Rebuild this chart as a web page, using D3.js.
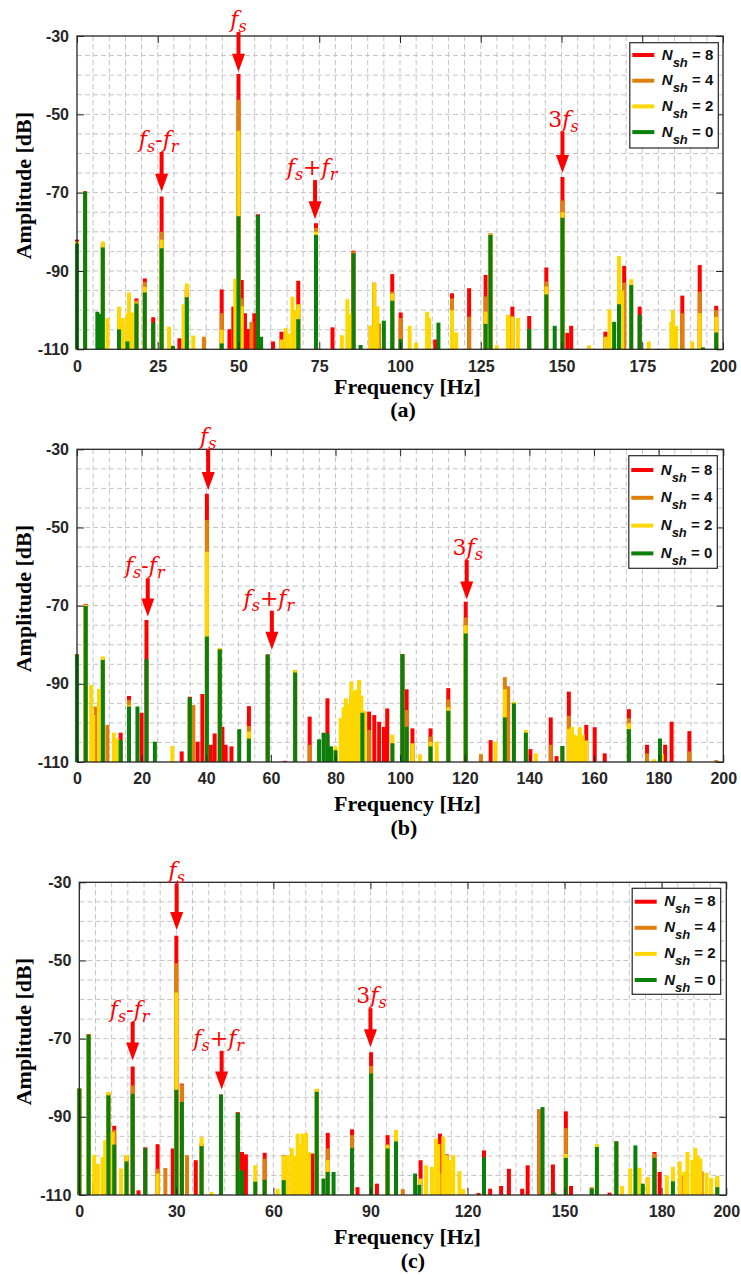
<!DOCTYPE html>
<html>
<head>
<meta charset="utf-8">
<script src="https://cdnjs.cloudflare.com/ajax/libs/d3/7.8.5/d3.min.js"></script>
<style>
body { margin: 0; background: #fff; }
</style>
</head>
<body>
<script>
// spectrum peaks: [frequency Hz, amplitude dB]
var nsh8_a = [[0,-82],[2.5,-69.6],[8,-83],[18.4,-97],[21,-91.9],[23.6,-101.8],[26.2,-71],[31.7,-107.2],[34,-95],[44.8,-94.7],[47.2,-104.9],[48.4,-99.1],[50,-39.7],[51,-92.3],[52,-100.8],[53,-104.8],[54.9,-100.8],[56,-75.5],[60.7,-108],[63.3,-105.5],[68.5,-92.5],[74,-77.8],[79.1,-104.4],[85.6,-84.8],[92,-93],[97.6,-90.8],[100.2,-100.6],[110.9,-107.5],[116.1,-95.7],[121.4,-94.4],[126.5,-91],[128,-80.5],[134.8,-99.1],[140,-101.5],[145.3,-89.1],[150.3,-66],[151.8,-105.8],[153,-104],[163.6,-105.5],[169.4,-88.7],[174.2,-99.1],[187.4,-96.3],[192.8,-88.5],[197.9,-98.9]];
var nsh4_a = [[0,-82.5],[2.5,-69.8],[8,-83],[18.4,-97.5],[21,-92.8],[26.2,-80],[34,-94.4],[39.3,-106.8],[44.8,-100.8],[50,-46.3],[51,-97],[54,-103],[68.5,-99],[74,-79],[85.6,-85],[90.9,-104],[93.5,-103.4],[97.6,-95.3],[100.2,-102],[116.1,-97],[121.4,-101.7],[126.5,-96.5],[128,-80.4],[145.3,-92.7],[150.3,-72],[169.4,-93],[187.4,-100.8],[192.8,-95.3],[197.9,-100]];
var nsh2_a = [[0,-82.5],[2.5,-69.8],[8,-82.5],[9.4,-102],[13,-99.1],[14.2,-102],[15.6,-100.8],[16.1,-95.5],[17,-100.6],[18.4,-98],[21,-94],[26.2,-82],[28.5,-104.2],[33,-98.5],[34,-93.2],[36,-106.5],[44.8,-105],[49,-92],[50,-54.2],[51,-99],[63.3,-107.5],[64.6,-104.6],[65.5,-106],[66.7,-96.6],[67.5,-100],[68.5,-98.5],[74,-80],[82,-106.4],[83.7,-97.2],[84.5,-101],[90.9,-104],[92,-93],[93,-99],[97.6,-95.8],[103,-104],[105,-108.3],[108.4,-100.4],[109,-102],[116.1,-100],[117.4,-105.7],[126.5,-100.4],[128,-80.6],[130,-109],[133.4,-101.2],[134.8,-101.6],[136.5,-102],[145.3,-94],[150.3,-75],[158.5,-109],[163.6,-106.8],[164.9,-99.8],[166.3,-103],[167.8,-86.2],[168.8,-95],[171.6,-92.1],[177,-108],[184,-103],[184.5,-100],[185.5,-104],[190.5,-108],[192.8,-100.8],[197.9,-101.7]];
var nsh0_a = [[0,-83],[2.5,-69.8],[6.3,-100.4],[7,-101],[8,-84],[13,-104.9],[15.6,-108],[18.4,-98.3],[21,-95.5],[23.6,-103.2],[26.2,-84.2],[29.7,-109.1],[34,-96.7],[44.8,-108.5],[50,-76],[56,-75.8],[57,-106.8],[68.5,-102.3],[74,-80.8],[85.6,-85.5],[87.8,-108.9],[95,-102.7],[97.6,-97.6],[100.2,-107.4],[111.9,-103.2],[126.5,-103.5],[128,-80.8],[140,-104.8],[145.3,-96],[147.9,-104],[150.3,-76.4],[166.3,-103],[167.8,-98.5],[171.6,-93.6],[174.2,-101.2],[193.8,-109.5],[197.9,-105.7]];

var nsh8_b = [[0,-82.4],[2.7,-69.6],[8,-83.5],[13.5,-102.5],[16.1,-93.1],[20,-97.4],[21.5,-73.7],[32.4,-107.3],[34.9,-93.3],[37.3,-104.8],[38.8,-92.6],[40.2,-41.4],[41.4,-105.6],[42.6,-102.7],[44.2,-81],[45,-101],[46,-105.6],[47.8,-106],[53.2,-95.7],[59,-82.5],[64.3,-109.7],[67.5,-86.5],[72,-98.4],[77.5,-93.7],[88.3,-97],[90.4,-97.1],[92,-98],[93.5,-99.7],[95,-101],[96,-96.3],[100.7,-82.4],[102,-91.4],[103.8,-101.4],[109.4,-101.4],[114.9,-91.1],[120.3,-69],[128,-104.4],[133.4,-90.7],[140.3,-106.7],[146.6,-98.6],[148.4,-108.5],[152.2,-92],[157.6,-100.5],[160.2,-101.1],[163.3,-107.8],[170.8,-96.5],[176.4,-105.6],[182,-105.6],[184,-99.7],[189.5,-102.1]];
var nsh4_b = [[0,-82.6],[2.7,-69.8],[5.8,-95.8],[8,-83.2],[9.4,-100.5],[16.1,-94.1],[34.9,-94],[36,-95.4],[40.2,-48.1],[44.2,-81],[53.2,-100.8],[72,-105.6],[83.2,-97.5],[84.9,-92.9],[87.3,-94.1],[90.4,-101.8],[100.7,-82.4],[102,-96.7],[103.8,-107.3],[109.4,-103.5],[114.9,-94],[120.3,-73],[125,-108],[132.4,-88.3],[133.4,-90.8],[146.6,-105.6],[150.2,-106],[152.2,-98.2],[154.8,-103.5],[170.8,-98.8],[176.4,-107.8],[189.5,-107.3],[197.8,-109.5]];
var nsh2_b = [[0,-82.6],[2.7,-69.8],[4.4,-90.3],[5,-98],[6.8,-91.3],[7.5,-97],[8,-83],[11.4,-102.5],[12.5,-104],[16.1,-95.4],[29.5,-105.9],[40.2,-56.2],[44.2,-80.8],[53.2,-102.2],[67.5,-86.5],[80,-106],[81.6,-98.8],[82.5,-96],[83.2,-93.7],[84,-95],[84.9,-89.4],[85.6,-92],[86.3,-91.6],[87.3,-89],[88,-93],[89,-97],[97.6,-103],[103.8,-105.2],[106.1,-108],[109.4,-104.8],[111.3,-104.8],[114.9,-96],[120.3,-75],[129.5,-104.8],[132.4,-91.4],[135.2,-94.6],[138.9,-101.8],[142,-107.8],[152.2,-101.5],[153.2,-101],[154,-103],[154.8,-103.5],[155.6,-101.1],[156.5,-103],[157.6,-104.5],[170.8,-100.1],[178.6,-109.3],[181,-108]];
var nsh0_b = [[0,-82.6],[2.7,-70.1],[8,-83.9],[13.5,-104.4],[16.1,-95.8],[18.7,-95.8],[21.5,-83.7],[24.1,-104.8],[34.9,-93.5],[40.2,-77.9],[44.2,-81.2],[50.2,-101.6],[53.2,-104],[59,-82.5],[67.5,-87.1],[74.9,-104.2],[76.3,-102.5],[77.5,-102.7],[78.6,-106],[80,-107],[88.3,-97.4],[97.6,-105.2],[100.7,-82.4],[102,-101],[109.4,-106],[114.9,-96.9],[120.3,-77.1],[132.4,-98.6],[135.2,-95],[138.9,-102.5],[150.2,-105.9],[170.8,-101.6],[180.4,-104]];

var nsh8_c = [[0,-82.6],[2.9,-68.8],[4.6,-106.7],[9,-84],[10.8,-92.3],[14.6,-100],[16.5,-77.1],[18.3,-108.8],[20.4,-97.8],[24.2,-97],[28.9,-98.1],[30,-43.7],[31.7,-81.5],[36,-101.1],[37.8,-96.8],[43.8,-84.3],[49,-88.8],[50.3,-99],[51.5,-99.6],[57.3,-99.2],[72.1,-99.4],[73.4,-83],[76.8,-94.1],[84.3,-93.2],[86,-108],[90.2,-73.5],[92,-107.1],[95.3,-94.7],[97.9,-93.5],[105.5,-101.1],[111.5,-94.3],[113.6,-99.6],[123.4,-109.5],[125.1,-98.6],[127,-108.4],[130.4,-107.7],[132.8,-103.3],[136.9,-108.4],[138.6,-102.4],[142.2,-88.1],[146.4,-102.2],[150.4,-88.6],[152,-107.7],[163.9,-109.4],[166,-96.3],[177.8,-99],[179.4,-104.1],[186.8,-105]];
var nsh4_c = [[0,-82.7],[2.9,-69],[9,-84],[10.8,-93.4],[16.5,-82],[24.2,-103.3],[26.6,-103.1],[30,-50.7],[31.7,-81.7],[33.3,-99.8],[49,-89],[57.3,-100.7],[63.2,-99.8],[76.8,-98.1],[84.3,-94.7],[90.2,-77],[95.3,-97],[97.9,-94],[100,-108.5],[111.5,-104.5],[112.5,-106],[142.2,-88.1],[150.4,-92.9],[158.4,-108],[177.8,-99.4],[192.4,-104],[197.2,-106]];
var nsh2_c = [[0,-82.7],[2.9,-69],[4.6,-99.8],[5.7,-102],[7.2,-100.3],[8,-96],[9,-83.6],[10.3,-93.9],[12.9,-103.2],[14.6,-99.8],[24.2,-104.5],[30,-58.2],[37.8,-95.2],[40.9,-109.2],[54.4,-102.4],[61.3,-108.4],[63.2,-100],[64.4,-99.8],[65.7,-98],[66.5,-100],[67.5,-94.3],[68.2,-97],[69,-94.3],[70.1,-94.1],[71,-99],[73.4,-82.8],[76.8,-101.1],[95.3,-97.3],[97.9,-93.4],[105.5,-105.8],[107.2,-102.4],[109,-102.8],[110.3,-95.6],[111,-97],[112.5,-95.1],[113.6,-99.8],[114.5,-101],[115.6,-99.8],[117.5,-103.9],[118.7,-108.4],[145,-109.6],[150.4,-99.5],[160,-96.9],[166,-96.5],[167.8,-107.7],[170.3,-103.2],[173.2,-103],[175.8,-105.4],[181.6,-105],[183.5,-102.8],[185.6,-101.4],[187,-104],[188,-99],[189.5,-101],[190.4,-98],[191.2,-100],[192,-100.7],[193.9,-104.3],[195.3,-105.6],[197.2,-105.1]];
var nsh0_c = [[0,-82.8],[2.9,-69],[9,-84.5],[10.8,-97.1],[14.6,-101.4],[16.5,-84.1],[20.4,-98],[30,-83.1],[31.7,-86.2],[37.8,-97.5],[43.8,-84.3],[49,-89],[50.3,-103.7],[54.4,-106.6],[57.3,-106.1],[63.2,-106.2],[73.4,-83.6],[75.5,-105.8],[76.8,-104.1],[78.6,-104.1],[84.3,-98],[90.2,-78.9],[95.3,-98.1],[97.9,-96.3],[103.8,-104.5],[105.1,-107.4],[125.1,-100.3],[143.2,-87.5],[146.8,-109.4],[150.4,-100.5],[158.4,-108.4],[160,-97.7],[166,-96.3],[171.9,-97.3],[174.2,-107.1],[177.8,-100.5],[183.5,-106.5],[197.2,-108]];

var shLevels = ["8", "4", "2", "0"];
var yTicks = [-110, -90, -70, -50, -30];
var xTicks_a = [0, 25, 50, 75, 100, 125, 150, 175, 200];
var xTicks_b = [0, 20, 40, 60, 80, 100, 120, 140, 160, 180, 200];
var xTicks_c = [0, 30, 60, 90, 120, 150, 180, 200];

// arrows: label, frequency, arrow top dB, arrow tip dB
var marks_a = [["f_s", 50, -29, -39.1], ["f_s-f_r", 26.2, -59.6, -69.8], ["f_s+f_r", 73.7, -66.8, -76.8], ["3f_s", 150.3, -54.4, -65]];
var marks_b = [["f_s", 40.6, -30, -40.4], ["f_s-f_r", 21.9, -63, -72.8], ["f_s+f_r", 60.3, -71.3, -81.3], ["3f_s", 120.6, -58.3, -68.4]];
var marks_c = [["f_s", 30.1, -30.3, -42.2], ["f_s-f_r", 16.5, -65.7, -75.6], ["f_s+f_r", 44, -73.1, -83], ["3f_s", 90, -62.2, -72.2]];

var colors = ["#ff0000", "#df800c", "#ffd700", "#0a800a"];

function main() {
    var svg = d3.select("body").append("svg")
        .attr("width", 741).attr("height", 1275)
        .style("display", "block");

    drawPanel(svg, {
        box: [77, 36, 723, 349.3], series: [nsh8_a, nsh4_a, nsh2_a, nsh0_a],
        xTicks: xTicks_a, marks: marks_a, tag: "(a)", xLabY: 45, tagY: 68, tagX: 403,
        leg: { right: 4.7, top: 6.7, first: 12.3, step: 25.7, h: 105.3 }
    });
    drawPanel(svg, {
        box: [77, 449.3, 723.3, 762], series: [nsh8_b, nsh4_b, nsh2_b, nsh0_b],
        xTicks: xTicks_b, marks: marks_b, tag: "(b)", xLabY: 48.5, tagY: 73, tagX: 404,
        leg: { right: 6, top: 6.4, first: 14.3, step: 27.8, h: 112.6 }
    });
    drawPanel(svg, {
        box: [79.3, 882.3, 726.3, 1195], series: [nsh8_c, nsh4_c, nsh2_c, nsh0_c],
        xTicks: xTicks_c, marks: marks_c, tag: "(c)", xLabY: 48.5, tagY: 73, tagX: 413,
        leg: { right: 5.6, top: 6, first: 13.4, step: 26.1, h: 106 }
    });
}

function drawPanel(svg, cfg) {
    var L = cfg.box[0], T = cfg.box[1], R = cfg.box[2], B = cfg.box[3];
    var x = d3.scaleLinear().domain([0, 200]).range([L, R]);
    var y = d3.scaleLinear().domain([-110, -30]).range([B, T]);
    var g = svg.append("g");

    // dashed grid, every 5 Hz and 5 dB
    g.append("g").selectAll("line").data(d3.range(5, 200, 5)).enter().append("line")
        .attr("x1", d => x(d)).attr("x2", d => x(d)).attr("y1", T).attr("y2", B)
        .attr("stroke", "#c4c4c4").attr("stroke-width", 1).attr("stroke-dasharray", "5,3");
    g.append("g").selectAll("line").data(d3.range(-105, -30, 5)).enter().append("line")
        .attr("x1", L).attr("x2", R).attr("y1", d => y(d)).attr("y2", d => y(d))
        .attr("stroke", "#c4c4c4").attr("stroke-width", 1).attr("stroke-dasharray", "5,3");

    // spectra, Nsh = 8 drawn first, Nsh = 0 on top
    cfg.series.forEach(function(s, i) {
        g.append("g").selectAll("line").data(s).enter().append("line")
            .attr("x1", d => x(d[0])).attr("x2", d => x(d[0]))
            .attr("y1", y(-110)).attr("y2", d => y(d[1]))
            .attr("stroke", colors[i]).attr("stroke-width", 4);
    });

    // axes with inward ticks
    var tickFont = function(sel) {
        sel.selectAll("text").attr("font-family", "'Liberation Sans', Arial, sans-serif")
            .attr("font-weight", "bold").attr("font-size", "16px").attr("fill", "#262626");
        sel.select(".domain").remove();
        sel.selectAll(".tick line").attr("stroke", "#262626");
    };
    var fmt = function(d) { return String(d); };
    g.append("g").attr("transform", "translate(0," + B + ")")
        .call(d3.axisBottom(x).tickValues(cfg.xTicks).tickSizeInner(-7).tickSizeOuter(0).tickPadding(11).tickFormat(fmt))
        .call(tickFont);
    g.append("g").attr("transform", "translate(" + L + ",0)")
        .call(d3.axisLeft(y).tickValues(yTicks).tickSizeInner(-7).tickSizeOuter(0).tickPadding(8).tickFormat(fmt))
        .call(tickFont);
    g.append("g").attr("transform", "translate(0," + T + ")")
        .call(d3.axisTop(x).tickValues(cfg.xTicks).tickSizeInner(-7).tickSizeOuter(0).tickFormat(""))
        .call(tickFont);
    g.append("g").attr("transform", "translate(" + R + ",0)")
        .call(d3.axisRight(y).tickValues(yTicks).tickSizeInner(-7).tickSizeOuter(0).tickFormat(""))
        .call(tickFont);
    g.append("rect").attr("x", L).attr("y", T).attr("width", R - L).attr("height", B - T)
        .attr("fill", "none").attr("stroke", "#262626").attr("stroke-width", 1.3);

    // axis titles
    g.append("text").attr("x", 407.5).attr("y", B + cfg.xLabY).attr("text-anchor", "middle")
        .attr("font-family", "'Liberation Serif', 'Times New Roman', serif").attr("font-weight", "bold")
        .attr("font-size", "22px").text("Frequency [Hz]");
    g.append("text").attr("transform", "translate(31," + ((T + B) / 2 - 7) + ") rotate(-90)")
        .attr("text-anchor", "middle")
        .attr("font-family", "'Liberation Serif', 'Times New Roman', serif").attr("font-weight", "bold")
        .attr("font-size", "22px").text("Amplitude [dB]");
    g.append("text").attr("x", cfg.tagX).attr("y", B + cfg.tagY).attr("text-anchor", "middle")
        .attr("font-family", "'Liberation Serif', 'Times New Roman', serif").attr("font-weight", "bold")
        .attr("font-size", "22px").text(cfg.tag);

    // arrows and labels
    cfg.marks.forEach(function(m) {
        var ax = x(m[1]), top = y(m[2]), tip = y(m[3]);
        g.append("line").attr("x1", ax).attr("x2", ax).attr("y1", top).attr("y2", tip - 16)
            .attr("stroke", "#ff0000").attr("stroke-width", 4);
        g.append("path").attr("d", "M" + (ax - 6.5) + "," + (tip - 18) + "L" + (ax + 6.5) + "," + (tip - 18) + "L" + ax + "," + tip + "Z")
            .attr("fill", "#ff0000");
        var dx = m[0].length > 4 ? -3 : (m[0][0] === "3" ? 1 : 0);
        addLabel(g, m[0], ax + dx, top - 5);
    });

    // legend
    var lg = cfg.leg;
    var bx = R - lg.right - 88.5, by = T + lg.top;
    g.append("rect").attr("x", bx).attr("y", by).attr("width", 88.5).attr("height", lg.h)
        .attr("fill", "#fff").attr("stroke", "#262626").attr("stroke-width", 1.2);
    shLevels.forEach(function(v, i) {
        var ry = by + lg.first + i * lg.step;
        g.append("line").attr("x1", bx + 2.5).attr("x2", bx + 24.5).attr("y1", ry).attr("y2", ry)
            .attr("stroke", colors[i]).attr("stroke-width", 4);
        var t = g.append("text").attr("x", bx + 32).attr("y", ry + 4.5)
            .attr("font-family", "'Liberation Sans', Arial, sans-serif").attr("font-weight", "bold")
            .attr("font-size", "15px").attr("fill", "#111");
        t.append("tspan").attr("font-style", "italic").text("N");
        t.append("tspan").attr("font-style", "italic").attr("font-size", "13px").attr("dy", 7).text("sh");
        t.append("tspan").attr("dy", -7).text(" = " + v);
    });
}

function addLabel(g, str, x, y) {
    var t = g.append("text").attr("x", x).attr("y", y).attr("text-anchor", "middle")
        .attr("font-family", "'DejaVu Serif', serif").attr("font-size", "22px").attr("fill", "#ff0000");
    var down = false;
    for (var i = 0; i < str.length; i++) {
        var c = str[i];
        if (c === "_") {
            t.append("tspan").attr("font-style", "italic").attr("font-size", "16px").attr("dy", 5).text(str[i + 1]);
            down = true;
            i++;
            continue;
        }
        var sp = t.append("tspan").attr("font-style", /[a-z]/.test(c) ? "italic" : "normal").text(c);
        if (down) { sp.attr("dy", -5); down = false; }
    }
}

window.onload = main;
</script>
</body>
</html>
